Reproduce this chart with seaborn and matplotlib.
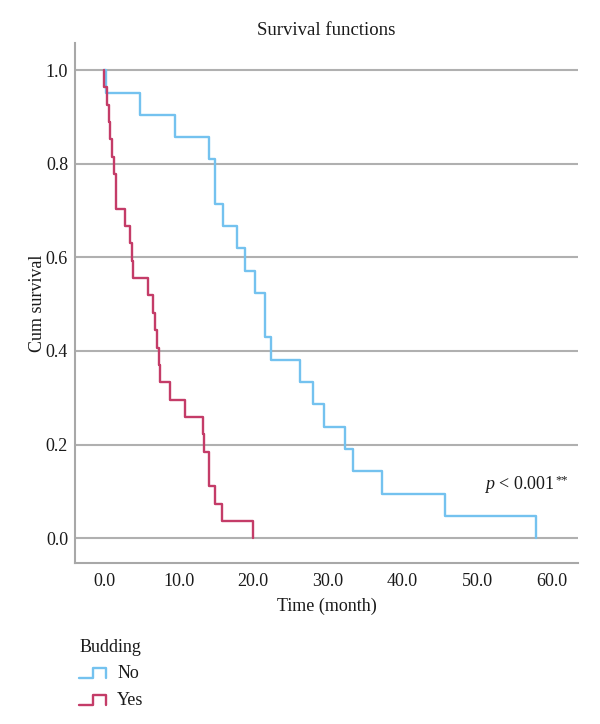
import numpy as np
import pandas as pd
import matplotlib
matplotlib.use("Agg")
import matplotlib.pyplot as plt
import seaborn as sns
from matplotlib.lines import Line2D
from matplotlib.legend_handler import HandlerBase

# ---- data ----
no_time = [0.0, 0.2, 4.8, 9.5, 14.0, 14.9, 16.0, 17.8, 18.9, 20.2, 21.6, 22.4,
           26.3, 28.0, 29.5, 32.3, 33.3, 37.3, 45.7, 57.9]
no_surv = [1.000, 0.952, 0.905, 0.857, 0.810, 0.714, 0.667, 0.619, 0.571, 0.524,
           0.429, 0.381, 0.333, 0.286, 0.238, 0.190, 0.143, 0.095, 0.048, 0.000]

yes_time = [0.0, 0.05, 0.35, 0.65, 0.8, 1.05, 1.3, 1.55, 2.8, 3.5, 3.7, 3.9, 5.9,
            6.6, 6.8, 7.05, 7.3, 7.5, 8.8, 10.8, 13.2, 13.4, 14.0, 14.9, 15.8, 20.0]
yes_surv = [1.000, 0.963, 0.926, 0.889, 0.852, 0.815, 0.778, 0.704, 0.667, 0.630,
            0.593, 0.556, 0.519, 0.481, 0.444, 0.407, 0.370, 0.333, 0.296, 0.259,
            0.222, 0.185, 0.111, 0.074, 0.037, 0.000]

groups = ["No", "Yes"]
x_ticks = [0, 10, 20, 30, 40, 50, 60]
y_ticks = [0.0, 0.2, 0.4, 0.6, 0.8, 1.0]

df = pd.concat([
    pd.DataFrame({"time": no_time, "surv": no_surv, "Budding": "No"}),
    pd.DataFrame({"time": yes_time, "surv": yes_surv, "Budding": "Yes"}),
], ignore_index=True)

sns.set_theme(style="white")
plt.rcParams["font.family"] = ["Liberation Serif", "DejaVu Serif"]
plt.rcParams["mathtext.fontset"] = "custom"
plt.rcParams["mathtext.rm"] = "Liberation Serif"
plt.rcParams["mathtext.it"] = "Liberation Serif:italic"

text_col = "#1a1a1a"
grid_col = "#b0b0b0"
palette = {"No": "#74c2ef", "Yes": "#c43c68"}
fs = 13

fig = plt.figure(figsize=(6.0, 7.24), dpi=100)
ax = fig.add_axes([0.125, 0.2224, 0.838, 0.7182])

for y in y_ticks:
    ax.axhline(y, color=grid_col, lw=1.5, zorder=0)

sns.lineplot(data=df, x="time", y="surv", hue="Budding", palette=palette,
             estimator=None, sort=False, drawstyle="steps-post", lw=1.7,
             ax=ax, legend=False)

ax.set_xlim(-3.9, 63.5)
ax.set_ylim(-0.053, 1.058)
ax.set_xticks(x_ticks)
ax.set_xticklabels([f"{v:.1f}" for v in x_ticks])
ax.set_yticks(y_ticks)
ax.set_yticklabels([f"{v:.1f}" for v in y_ticks])
ax.tick_params(axis="x", length=0, labelsize=fs, colors=text_col, pad=7)
ax.tick_params(axis="y", length=0, labelsize=fs, colors=text_col, pad=5)
for s in ["top", "right"]:
    ax.spines[s].set_visible(False)
for s in ["left", "bottom"]:
    ax.spines[s].set_color("#a8a8a8")
    ax.spines[s].set_linewidth(1.5)

ax.set_xlabel("Time (month)", fontsize=fs, color=text_col, labelpad=6)
ax.set_ylabel("Cum survival", fontsize=fs, color=text_col, labelpad=0)
ax.set_title("Survival functions", fontsize=fs + 0.5, color=text_col, pad=6)

ptxt = ax.text(0.955, 0.150, r"$p$ < 0.001", transform=ax.transAxes,
               ha="right", va="center", fontsize=fs, color=text_col)
ax.annotate("**", xy=(1.0, 0.72), xycoords=ptxt, xytext=(0.3, 0),
            textcoords="offset points", ha="left", va="center",
            fontsize=9, color=text_col)


class StepHandler(HandlerBase):
    def create_artists(self, legend, orig_handle, xdescent, ydescent,
                       width, height, fontsize, trans):
        x0, x1 = -xdescent, -xdescent + width
        y0, y1 = -ydescent + 0.05 * height, -ydescent + 0.85 * height
        xm = x0 + 0.5 * width
        line = Line2D([x0, xm, xm, x1, x1], [y0, y0, y1, y1, y0],
                      color=orig_handle.get_color(), lw=1.7)
        line.set_transform(trans)
        return [line]


handles = [Line2D([], [], color=palette[g]) for g in groups]
leg = fig.legend(handles, groups, title="Budding", loc="upper left",
                 bbox_to_anchor=(0.108, 0.138), frameon=False, fontsize=fs,
                 title_fontsize=fs, alignment="left", handlelength=1.5,
                 handletextpad=0.6, labelspacing=0.55, borderpad=0.3,
                 handler_map={Line2D: StepHandler()})
for t in leg.get_texts():
    t.set_color(text_col)
leg.get_title().set_color(text_col)

fig.savefig("out.png", dpi=100)
